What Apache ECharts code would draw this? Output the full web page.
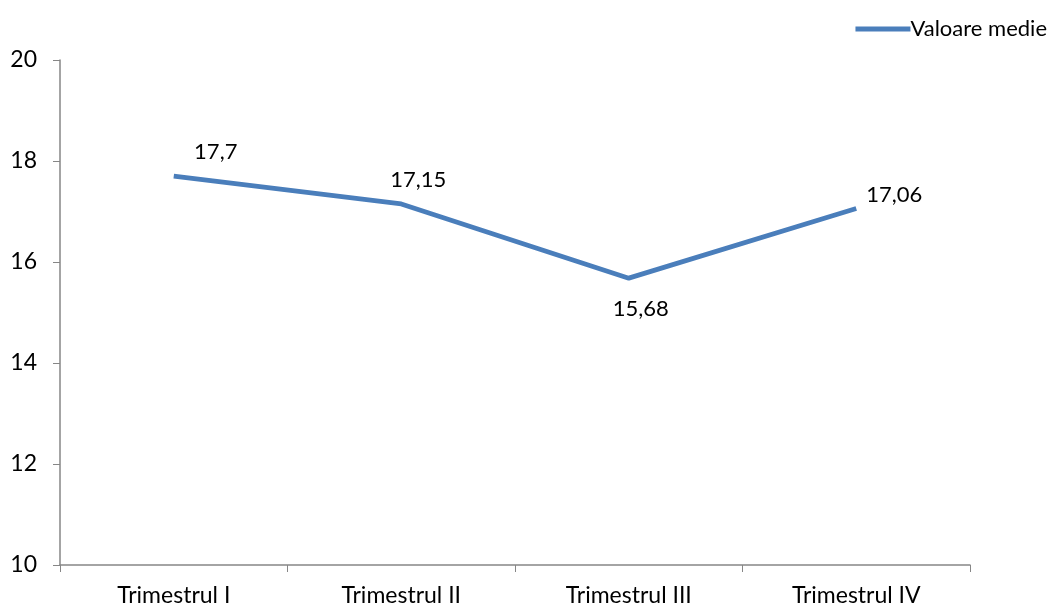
<!DOCTYPE html>
<html><head><meta charset="utf-8">
<script src="https://cdn.jsdelivr.net/npm/echarts@6/dist/echarts.min.js"></script>
<style>html,body{margin:0;padding:0;background:#fff}#c{width:1055px;height:607px}</style>
</head><body><div id="c"></div>
<script>
const categories = ['Trimestrul I', 'Trimestrul II', 'Trimestrul III', 'Trimestrul IV'];
const values = [17.7, 17.15, 15.68, 17.06];
const seriesName = 'Valoare medie';
const labelOffsets = [[42, 0], [17, 0], [12, 0], [38, 0]];
const labelPositions = ['top', 'top', 'bottom', 'top'];

const font = 'Lato';
const fs = 23;
const chart = echarts.init(document.getElementById('c'));
chart.setOption({
  animation: false,
  textStyle: { fontFamily: font },
  legend: {
    right: 3, top: 13,
    itemWidth: 55, itemHeight: 10, itemGap: 10,
    textStyle: { fontSize: fs - 1, color: '#000', fontFamily: font, padding: [0, 0, 0, -5] },
    data: [{ name: seriesName, icon: 'path://M0,4 L55,4 L55,9 L0,9 Z', itemStyle: { color: '#4a7ebb', opacity: 1 } }]
  },
  grid: { left: 60, right: 85, top: 60, bottom: 40 },
  xAxis: {
    type: 'category', data: categories, boundaryGap: true,
    axisLine: { lineStyle: { color: '#868686', width: 1.5 } },
    axisTick: { show: true, length: 7, lineStyle: { color: '#868686' } },
    axisLabel: { color: '#000', fontSize: fs, margin: 19, fontFamily: font }
  },
  yAxis: {
    type: 'value', min: 10, max: 20, interval: 2,
    splitLine: { show: false },
    axisLine: { show: true, lineStyle: { color: '#868686', width: 1.5 } },
    axisTick: { show: true, length: 7, lineStyle: { color: '#868686' } },
    axisLabel: { color: '#000', fontSize: fs, margin: 23, fontFamily: font }
  },
  series: [{
    name: seriesName, type: 'line', symbol: 'circle', symbolSize: 0.1, showSymbol: true,
    lineStyle: { color: '#4a7ebb', width: 4.8 },
    itemStyle: { color: '#4a7ebb' },
    data: values.map((v, i) => ({
      value: v,
      label: {
        show: true, position: labelPositions[i],
        offset: labelOffsets[i],
        distance: i === 2 ? 20 : (i === 3 ? 3 : 13)
      }
    })),
    label: {
      show: true,
      color: '#000', fontSize: fs - 1, fontFamily: font,
      formatter: p => String(p.value).replace('.', ',')
    }
  }]
});
</script></body></html>
